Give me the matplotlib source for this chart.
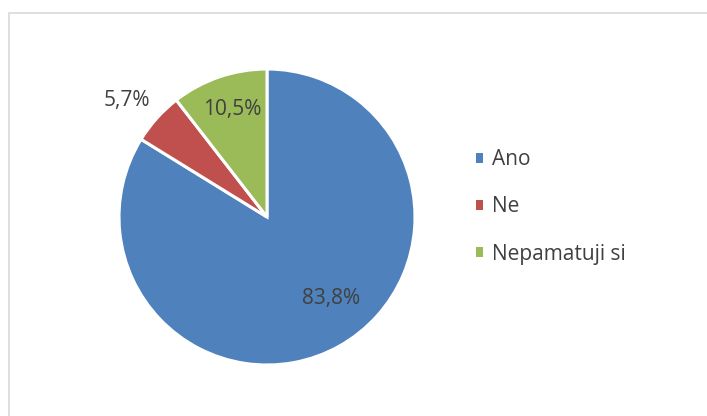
import matplotlib
matplotlib.use("Agg")
import matplotlib.pyplot as plt
from matplotlib.patches import Rectangle

categories = ["Ano", "Ne", "Nepamatuji si"]
values = [83.8, 5.7, 10.5]
labels = ["83,8%", "5,7%", "10,5%"]
colors = ["#4f81bd", "#c0504d", "#9bbb59"]

plt.rcParams['font.family'] = ['Open Sans', 'DejaVu Sans']

W, H = 707, 416
fig = plt.figure(figsize=(W / 100, H / 100), dpi=100)

# outer frame (right and bottom edges lie outside the image)
fig.patches.append(Rectangle((8.5 / W, -0.2), 1.2, (H - 12.5) / H + 0.2, transform=fig.transFigure,
                             fill=False, edgecolor="#d9d9d9", linewidth=1.2))

cx, cy, r = 267, 217, 148
ax = fig.add_axes([(cx - r) / W, (H - cy - r) / H, 2 * r / W, 2 * r / H])
wedges, _ = ax.pie(values, colors=colors, startangle=90, counterclock=False,
                   radius=1, wedgeprops=dict(edgecolor="white", linewidth=2.2))
ax.set_xlim(-1, 1)
ax.set_ylim(-1, 1)
ax.set_aspect("equal")
ax.axis("off")

label_pos = [(0.43, -0.55), (-0.946, 0.784), (-0.236, 0.723)]
for lab, (x, y) in zip(labels, label_pos):
    ax.text(x, y, lab, ha="center", va="center", fontsize=15, color="#404040")

leg = fig.legend(wedges, categories, loc="center left",
                 bbox_to_anchor=(457 / W, 1 - 207 / H), frameon=False,
                 fontsize=15, handlelength=0.35, handleheight=0.35,
                 handletextpad=0.45, labelspacing=1.25, labelcolor="#404040")
for h in leg.legend_handles:
    h.set_edgecolor("none")

fig.savefig("out.png", dpi=100)
